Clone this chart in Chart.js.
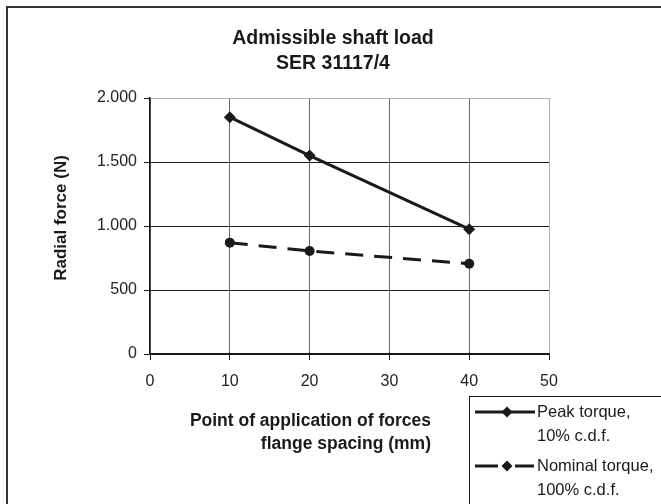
<!DOCTYPE html>
<html><head><meta charset="utf-8">
<script src="https://cdn.jsdelivr.net/npm/chart.js@4"></script>
<style>html,body{margin:0;padding:0;background:#fff}canvas{display:block}</style>
</head><body>
<canvas id="c" width="661" height="504"></canvas>
<script>
const titleLines = ['Admissible shaft load', 'SER 31117/4'];
const xAxisTitleLines = ['Point of application of forces', 'flange spacing (mm)'];
const yAxisTitle = 'Radial force (N)';
const xPositions = [10, 20, 40];
const peakTorque = [1850, 1550, 975];
const nominalTorque = [870, 805, 705];
const peakLabel = ['Peak torque,', '10% c.d.f.'];
const nominalLabel = ['Nominal torque,', '100% c.d.f.'];
const xTickLabels = ['0', '10', '20', '30', '40', '50'];
const yTickLabels = ['0', '500', '1.000', '1.500', '2.000'];

const FONT = 'Arial, "Liberation Sans", Helvetica, sans-serif';
const INK = '#1a1a1a';

function diamond(ctx, x, y, r) {
  ctx.beginPath();
  ctx.moveTo(x, y - r); ctx.lineTo(x + r, y); ctx.lineTo(x, y + r); ctx.lineTo(x - r, y);
  ctx.closePath(); ctx.fill();
}

const decor = {
  id: 'decor',
  beforeDraw(chart) {
    const ctx = chart.ctx;
    ctx.save();
    ctx.fillStyle = '#fff';
    ctx.fillRect(0, 0, chart.width, chart.height);
    ctx.strokeStyle = '#333';
    ctx.lineWidth = 2;
    ctx.beginPath();
    ctx.moveTo(7, chart.height + 5); ctx.lineTo(7, 7); ctx.lineTo(chart.width + 5, 7);
    ctx.stroke();
    ctx.restore();
  },
  afterDraw(chart) {
    const ctx = chart.ctx;
    ctx.save();
    ctx.fillStyle = INK;
    ctx.textBaseline = 'middle';
    // chart title
    ctx.font = 'bold 19.5px ' + FONT;
    ctx.textAlign = 'center';
    ctx.fillText(titleLines[0], 333, 39);
    ctx.fillText(titleLines[1], 333, 64);
    // y axis title
    ctx.font = 'bold 17px ' + FONT;
    ctx.save();
    ctx.translate(61, 218);
    ctx.rotate(-Math.PI / 2);
    ctx.fillText(yAxisTitle, 0, 0);
    ctx.restore();
    // x axis title
    ctx.font = 'bold 17.5px ' + FONT;
    ctx.textAlign = 'right';
    ctx.fillText(xAxisTitleLines[0], 431, 421);
    ctx.fillText(xAxisTitleLines[1], 431, 444);
    // legend
    ctx.strokeStyle = INK;
    ctx.lineWidth = 1;
    ctx.strokeRect(469.5, 396.5, 400, 200);
    const ds = chart.data.datasets;
    const rows = [{ y: 412, lines: peakLabel, d: ds[0] }, { y: 466, lines: nominalLabel, d: ds[1] }];
    rows.forEach(r => {
      ctx.strokeStyle = r.d.borderColor;
      ctx.fillStyle = r.d.borderColor;
      ctx.lineWidth = r.d.borderWidth;
      ctx.beginPath();
      if (r.d.borderDash && r.d.borderDash.length) {
        ctx.moveTo(475, r.y); ctx.lineTo(498, r.y);
        ctx.moveTo(515, r.y); ctx.lineTo(534, r.y);
      } else {
        ctx.moveTo(475, r.y); ctx.lineTo(535, r.y);
      }
      ctx.stroke();
      diamond(ctx, 507, r.y, 5.5);
      ctx.fillStyle = INK;
      ctx.font = '16.5px ' + FONT;
      ctx.textAlign = 'left';
      ctx.fillText(r.lines[0], 537, r.y);
      ctx.fillText(r.lines[1], 537, r.y + 24);
    });
    ctx.restore();
  }
};

new Chart(document.getElementById('c'), {
  type: 'line',
  data: {
    datasets: [
      {
        label: peakLabel.join(' '),
        data: xPositions.map((x, i) => ({ x: x, y: peakTorque[i] })),
        borderColor: INK, backgroundColor: INK, borderWidth: 3,
        pointStyle: 'rectRot', pointRadius: 6, pointBorderWidth: 0, tension: 0
      },
      {
        label: nominalLabel.join(' '),
        data: xPositions.map((x, i) => ({ x: x, y: nominalTorque[i] })),
        borderColor: INK, backgroundColor: INK, borderWidth: 3, borderDash: [18, 11],
        pointStyle: 'circle', pointRadius: 5, pointBorderWidth: 0, tension: 0
      }
    ]
  },
  options: {
    responsive: false,
    animation: false,
    devicePixelRatio: 1,
    layout: { padding: { top: 98, right: 112, left: 0, bottom: 0 } },
    plugins: { legend: { display: false }, title: { display: false }, tooltip: { enabled: false } },
    scales: {
      x: {
        type: 'linear', min: 0, max: 50,
        ticks: {
          stepSize: 10, autoSkip: false, maxRotation: 0, padding: 12,
          callback: (v, i) => xTickLabels[i],
          font: { size: 16, family: FONT }, color: '#222'
        },
        grid: {
          color: c => (c.tick && c.tick.value === 50) ? '#b0b0b0' : '#6a6a6a',
          tickColor: INK, tickLength: 6, lineWidth: 1
        },
        border: { color: INK, width: 1.5 },
        afterFit: s => { s.height = 150; }
      },
      y: {
        min: 0, max: 2000,
        ticks: {
          stepSize: 500, padding: 7,
          callback: (v, i) => yTickLabels[i],
          font: { size: 16, family: FONT }, color: '#222'
        },
        grid: {
          color: c => (c.tick && c.tick.value === 2000) ? '#b0b0b0' : INK,
          tickColor: INK, tickLength: 6, lineWidth: 1
        },
        border: { color: INK, width: 1.5 },
        afterFit: s => { s.width = 150; }
      }
    }
  },
  plugins: [decor]
});
</script>
</body></html>
